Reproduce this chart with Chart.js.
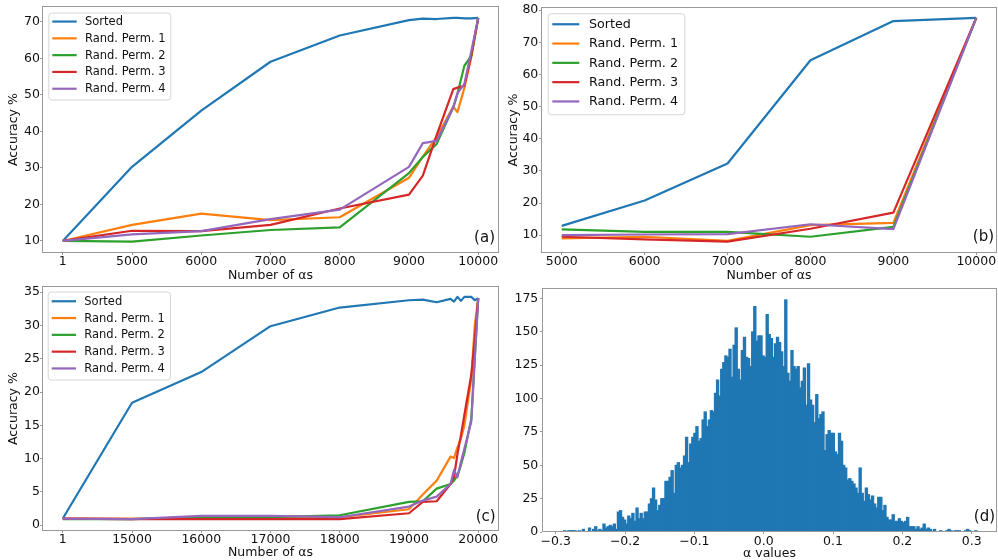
<!DOCTYPE html>
<html>
<head>
<meta charset="utf-8">
<script src="https://cdn.jsdelivr.net/npm/chart.js@4/dist/chart.umd.min.js"></script>
<style>
  body { margin: 0; background: #fff; width: 998px; height: 560px; overflow: hidden; position: relative; }
  canvas { position: absolute; }
</style>
</head>
<body>
<canvas id="chartA" width="502" height="290" style="left:0;top:0"></canvas>
<canvas id="chartB" width="500" height="290" style="left:498px;top:0"></canvas>
<canvas id="chartC" width="502" height="280" style="left:0;top:280px"></canvas>
<canvas id="chartD" width="500" height="280" style="left:498px;top:280px"></canvas>
<script>
var seriesNames = ["Sorted", "Rand. Perm. 1", "Rand. Perm. 2", "Rand. Perm. 3", "Rand. Perm. 4"];
var seriesColors = ["#1f77b4", "#ff7f0e", "#2ca02c", "#d62728", "#9467bd"];

// (a) accuracy vs number of alphas, 10000 case
var aTicks = [1, 5000, 6000, 7000, 8000, 9000, 10000];
var aYTicks = [10, 20, 30, 40, 50, 60, 70];
var aX = [1, 5000, 6000, 7000, 8000, 9000, 9200, 9400, 9640, 9700, 9800, 9900, 10000];
var aSorted = [10, 30.3, 45.7, 59.1, 66.3, 70.5, 70.9, 70.8, 71.1, 71.1, 71.0, 71.0, 71.1];
var aPerm1 = [10, 14.4, 17.5, 15.7, 16.5, 27.3, 33.1, 38.5, 46.8, 45.3, 51.9, 60.3, 71.1];
var aPerm2 = [10, 9.8, 11.5, 13.0, 13.7, 28.6, 33.0, 36.6, 46.6, 50.3, 58.0, 60.7, 71.1];
var aPerm3 = [10, 12.8, 12.7, 14.4, 18.9, 22.7, 27.9, 39.0, 51.6, 52.0, 52.5, 61.0, 71.1];
var aPerm4 = [10, 11.8, 12.7, 16.0, 18.6, 30.3, 36.8, 37.4, 46.6, 50.5, 53.0, 62.0, 71.1];

// (b)
var bTicks = [5000, 6000, 7000, 8000, 9000, 10000];
var bYTicks = [10, 20, 30, 40, 50, 60, 70, 80];
var bX = [5000, 6000, 7000, 8000, 9000, 10000];
var bSorted = [12.9, 20.8, 32.3, 64.4, 76.6, 77.6];
var bPerm1 = [9.0, 9.5, 8.2, 13.1, 13.8, 77.6];
var bPerm2 = [11.8, 11.0, 11.0, 9.5, 12.6, 77.6];
var bPerm3 = [9.5, 8.7, 8.0, 12.0, 17.0, 77.6];
var bPerm4 = [10.0, 10.2, 10.3, 13.4, 11.9, 77.6];

// (c) 20000 case
var cTicks = [1, 15000, 16000, 17000, 18000, 19000, 20000];
var cYTicks = [0, 5, 10, 15, 20, 25, 30, 35];
var cX = [1, 15000, 16000, 17000, 18000, 19000, 19200, 19400, 19600, 19650, 19700, 19750, 19800, 19900, 19950, 20000];
var cSorted = [1.0, 18.4, 23.0, 29.9, 32.7, 33.8, 33.9, 33.5, 34.0, 33.6, 34.3, 33.7, 34.3, 34.3, 33.8, 34.1];
var cPerm1 = [1.0, 1.0, 1.0, 1.1, 1.2, 2.4, 4.6, 6.7, 10.3, 10.1, 11.7, 13.0, 15.0, 22.0, 30.0, 34.1];
var cPerm2 = [0.9, 0.9, 1.2, 1.2, 1.5, 3.5, 3.6, 5.5, 6.2, 6.7, 7.5, 9.0, 10.9, 16.0, 25.0, 34.1];
var cPerm3 = [1.0, 0.9, 0.9, 0.9, 0.9, 1.8, 3.5, 3.6, 6.2, 7.2, 10.7, 13.5, 16.6, 22.6, 28.0, 34.1];
var cPerm4 = [1.0, 0.9, 1.4, 1.4, 1.2, 2.8, 3.7, 4.3, 6.2, 8.3, 7.2, 9.5, 11.5, 15.6, 25.0, 34.1];

// (d) histogram of alpha values
var dTicks = [-0.3, -0.2, -0.1, 0, 0.1, 0.2, 0.3];
var dTickLabels = ["\u22120.3", "\u22120.2", "\u22120.1", "0.0", "0.1", "0.2", "0.3"];
var dYTicks = [0, 25, 50, 75, 100, 125, 150, 175];
var dBinStart = -0.2885;
var dBinWidth = 0.00298;
var dCounts = [
  1, 0, 1, 1, 1, 1, 0, 1, 0, 2, 0, 0, 3, 0, 2, 4, 1, 2, 1, 6,
  3, 4, 5, 4, 6, 2, 15, 16, 11, 9, 6, 12, 10, 14, 8, 18, 10, 14, 10, 15,
  15, 21, 25, 33, 24, 16, 20, 25, 25, 38, 38, 41, 46, 29, 50, 52, 48, 50, 57, 71,
  52, 66, 71, 74, 79, 68, 70, 84, 90, 79, 84, 91, 90, 104, 114, 102, 122, 127, 132, 131,
  137, 116, 140, 153, 122, 114, 136, 146, 131, 130, 124, 150, 169, 143, 147, 147, 132, 131, 163, 148,
  145, 131, 141, 146, 142, 135, 124, 174, 119, 113, 136, 124, 122, 124, 108, 113, 123, 95, 126, 99,
  95, 82, 103, 85, 88, 90, 61, 73, 76, 74, 74, 60, 58, 74, 68, 50, 48, 39, 40, 38,
  36, 33, 29, 48, 29, 23, 33, 28, 24, 27, 21, 18, 26, 26, 16, 20, 11, 9, 9, 13,
  8, 8, 10, 8, 7, 8, 11, 4, 4, 4, 2, 4, 2, 3, 6, 2, 3, 2, 0, 2,
  0, 0, 1, 0, 0, 1, 2, 1, 0, 1, 1, 1, 0, 0, 1, 2, 1, 0, 0, 1
];

var FONT = "'DejaVu Sans', sans-serif";
var TEXT = "#111";
var SPINE = "#999";

// position of a value on an axis whose ticks are evenly spaced but unevenly valued
function segmentPos(v, ticks) {
  for (var i = 0; i < ticks.length - 1; i++) {
    if (v <= ticks[i + 1]) return i + (v - ticks[i]) / (ticks[i + 1] - ticks[i]);
  }
  return ticks.length - 1;
}

function lineSets(xs, ys, toX) {
  return ys.map(function (vals, i) {
    return {
      label: seriesNames[i],
      data: vals.map(function (v, j) {
        return { x: toX ? toX(xs[j]) : xs[j], y: v };
      }),
      borderColor: seriesColors[i],
      backgroundColor: seriesColors[i],
      borderWidth: 2.2,
      borderJoinStyle: "round",
      pointRadius: 0,
      tension: 0,
      order: ys.length - i,
    };
  });
}

function xAxis(o) {
  return {
    type: "linear",
    min: o.min,
    max: o.max,
    offset: false,
    afterBuildTicks: function (s) {
      s.ticks = o.ticks.map(function (v) { return { value: v }; });
    },
    afterFit: function (s) { s.height = o.height; },
    grid: { drawOnChartArea: false, drawTicks: true, tickLength: 2, tickColor: SPINE, offset: false },
    border: { display: false },
    ticks: {
      autoSkip: false, maxRotation: 0, padding: o.pad, color: TEXT,
      font: { family: FONT, size: 12.5, lineHeight: 1 },
      callback: function (v, i) { return o.labels[i]; },
    },
    title: {
      display: true, text: o.title, color: TEXT,
      font: { family: FONT, size: 12.5, lineHeight: 1.2 },
      padding: { top: 0, bottom: o.titlePad },
    },
  };
}

function yAxis(o) {
  return {
    type: "linear",
    min: o.min,
    max: o.max,
    afterBuildTicks: function (s) {
      s.ticks = o.ticks.map(function (v) { return { value: v }; });
    },
    afterFit: function (s) { s.width = o.width; },
    grid: { drawOnChartArea: false, drawTicks: true, tickLength: 2, tickColor: SPINE },
    border: { display: false },
    ticks: {
      padding: o.pad, color: TEXT,
      font: { family: FONT, size: 12.5, lineHeight: 1 },
      callback: function (v) { return String(v); },
    },
    title: {
      display: !!o.title, text: o.title || "", color: TEXT,
      font: { family: FONT, size: 12.5, lineHeight: 1.2 },
      padding: { top: o.titlePad || 0, bottom: 0 },
    },
  };
}

// frame, panel letter and boxed legend drawn inside the plot area
var panelPlugin = {
  id: "panel",
  afterDraw: function (chart, args, opts) {
    var ctx = chart.ctx, a = chart.chartArea;
    ctx.save();
    ctx.strokeStyle = SPINE;
    ctx.lineWidth = 1;
    ctx.strokeRect(Math.round(a.left) + 0.5, Math.round(a.top) + 0.5,
      Math.round(a.right - a.left) - 1, Math.round(a.bottom - a.top) - 1);

    ctx.fillStyle = TEXT;
    ctx.font = "15px " + FONT;
    ctx.textAlign = "right";
    ctx.textBaseline = "middle";
    ctx.fillText(opts.label, a.right - opts.labelDx, a.bottom - opts.labelDy);

    var L = opts.legend;
    if (L) {
      var bx = a.left + L.dx, by = a.top + L.dy;
      ctx.beginPath();
      ctx.roundRect(bx + 0.5, by + 0.5, L.w, L.h, 3);
      ctx.fillStyle = "rgba(255,255,255,0.8)";
      ctx.fill();
      ctx.strokeStyle = "#d6d6d6";
      ctx.stroke();
      ctx.font = L.size + "px " + FONT;
      ctx.textAlign = "left";
      chart.data.datasets.forEach(function (ds, i) {
        var cy = by + L.row0 + i * L.rowH;
        ctx.strokeStyle = ds.borderColor;
        ctx.lineWidth = 2.2;
        ctx.beginPath();
        ctx.moveTo(bx + L.h0, cy);
        ctx.lineTo(bx + L.h1, cy);
        ctx.stroke();
        ctx.fillStyle = TEXT;
        ctx.fillText(ds.label, bx + L.tx, cy + 0.5);
      });
    }
    ctx.restore();
  },
};

var common = {
  responsive: false,
  animation: false,
  events: [],
  devicePixelRatio: 1,
};

function lineChart(id, cfg) {
  return new Chart(document.getElementById(id), {
    type: "line",
    data: { datasets: cfg.datasets },
    options: Object.assign({}, common, {
      layout: { padding: cfg.padding },
      plugins: { legend: { display: false }, tooltip: { enabled: false }, panel: cfg.panel },
      scales: { x: cfg.x, y: cfg.y },
    }),
    plugins: [panelPlugin],
  });
}

function labelsOf(arr) {
  return arr.map(function (v) { return String(v); });
}

lineChart("chartA", {
  datasets: lineSets(aX, [aSorted, aPerm1, aPerm2, aPerm3, aPerm4], function (v) { return segmentPos(v, aTicks); }),
  padding: { left: 0, top: 6, right: 3, bottom: 0 },
  x: xAxis({ min: -0.3, max: 6.3, ticks: [0, 1, 2, 3, 4, 5, 6], labels: labelsOf(aTicks), height: 37, pad: 0.5, title: "Number of \u03b1s", titlePad: 7 }),
  y: yAxis({ min: 6.7, max: 74.3, ticks: aYTicks, width: 42, pad: 0, title: "Accuracy %", titlePad: 6 }),
  panel: { label: "(a)", labelDx: 4, labelDy: 14.7,
    legend: { dx: 6.3, dy: 6.3, w: 122, h: 87, row0: 9, rowH: 16.8, h0: 4, h1: 28.4, tx: 36.7, size: 11.5 } },
});

lineChart("chartB", {
  datasets: lineSets(bX, [bSorted, bPerm1, bPerm2, bPerm3, bPerm4]),
  padding: { left: 0, top: 6, right: 1, bottom: 0 },
  x: xAxis({ min: 4750, max: 10250, ticks: bTicks, labels: labelsOf(bTicks), height: 37, pad: 0.5, title: "Number of \u03b1s", titlePad: 7 }),
  y: yAxis({ min: 4.45, max: 81, ticks: bYTicks, width: 43, pad: 0.7, title: "Accuracy %", titlePad: 8.3 }),
  panel: { label: "(b)", labelDx: 3, labelDy: 15.7,
    legend: { dx: 6.7, dy: 6.3, w: 136.6, h: 101, row0: 11, rowH: 19.3, h0: 4.6, h1: 31.6, tx: 41.3, size: 12.7 } },
});

lineChart("chartC", {
  datasets: lineSets(cX, [cSorted, cPerm1, cPerm2, cPerm3, cPerm4], function (v) { return segmentPos(v, cTicks); }),
  padding: { left: 0, top: 4, right: 3, bottom: 0 },
  x: xAxis({ min: -0.3, max: 6.3, ticks: [0, 1, 2, 3, 4, 5, 6], labels: labelsOf(cTicks), height: 29, pad: 0, title: "Number of \u03b1s", titlePad: -0.6 }),
  y: yAxis({ min: -0.87, max: 35.9, ticks: cYTicks, width: 42, pad: 0, title: "Accuracy %", titlePad: 5.8 }),
  panel: { label: "(c)", labelDx: 3.3, labelDy: 14.3,
    legend: { dx: 5.7, dy: 5.3, w: 122.3, h: 88, row0: 9.7, rowH: 16.8, h0: 4, h1: 28.3, tx: 36.6, size: 11.5 } },
});

var dData = dCounts.map(function (c, i) {
  return { x: dBinStart + (i + 0.5) * dBinWidth, y: c };
});

new Chart(document.getElementById("chartD"), {
  type: "bar",
  data: {
    datasets: [{
      label: "\u03b1 values",
      data: dData,
      backgroundColor: "#1f77b4",
      borderWidth: 0,
      barPercentage: 1.15,
      categoryPercentage: 1,
      inflateAmount: 0.5,
    }],
  },
  options: Object.assign({}, common, {
    layout: { padding: { left: 0, top: 5, right: 1, bottom: 0 } },
    plugins: { legend: { display: false }, tooltip: { enabled: false },
      panel: { label: "(d)", labelDx: 2, labelDy: 14.7 } },
    scales: {
      x: xAxis({ min: -0.3198, max: 0.3365, ticks: dTicks, labels: dTickLabels, height: 28, pad: 1.5, title: "\u03b1 values", titlePad: -1.7 }),
      y: yAxis({ min: 0, max: 182.9, ticks: dYTicks, width: 44, pad: 1.7 }),
    },
  }),
  plugins: [panelPlugin],
});
</script>
</body>
</html>
